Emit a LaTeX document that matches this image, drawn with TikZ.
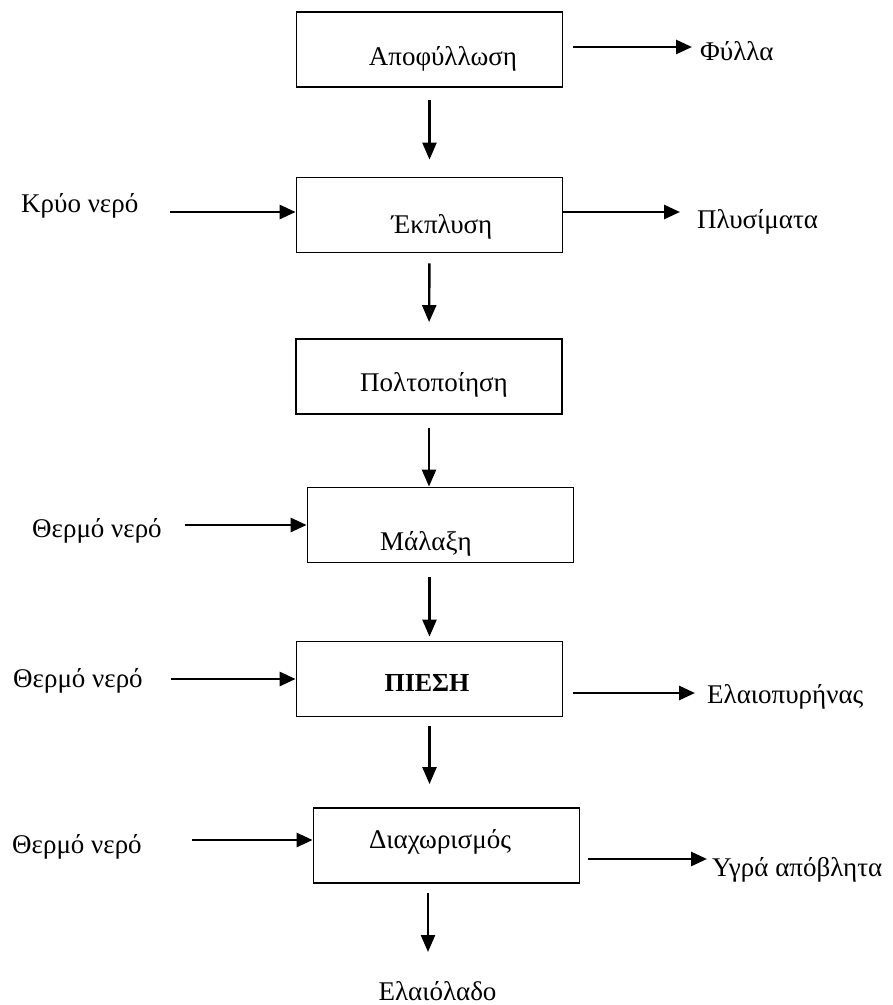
\documentclass[tikz,border=0pt]{standalone}
\usepackage{fontspec}
\setmainfont{Liberation Serif}
\usetikzlibrary{arrows.meta}
\begin{document}
\begin{tikzpicture}[x=1pt,y=-1pt,
  box/.style={draw, line width=1.8pt, minimum width=266pt, minimum height=75pt, inner sep=0pt},
  txt/.style={font=\fontsize{27}{32}\selectfont, inner sep=0pt, anchor=base},
  ltxt/.style={txt, anchor=base west},
  harr/.style={line width=2.8pt, -{Triangle[length=16pt,width=14pt]}},
  varr/.style={line width=2.4pt, -{Triangle[length=17pt,width=14pt]}}]
\useasboundingbox (0,0) rectangle (893,1005);

% process boxes
\node[box] (b1) at (429.5,49.5) {};
\node[box] (b2) at (429.5,215) {};
\node[box] (b3) at (429,376.5) {};
\node[box] (b4) at (440.5,525) {};
\node[box] (b5) at (429.5,679) {};
\node[box] (b6) at (446.5,845.5) {};

% box texts
\node[txt] (t1) at (443,65) {Αποφύλλωση};
\node[txt] (t2) at (442,233) {Έκπλυση};
\node[txt] (t3) at (434,391) {Πολτοποίηση};
\node[txt] (t4) at (426,550) {Μάλαξη};
\node[txt,font=\fontsize{26}{30}\selectfont\bfseries] (t5) at (427,691) {ΠΙΕΣΗ};
\node[txt] (t6) at (440,848) {Διαχωρισμός};

% input labels
\node[ltxt] (in2) at (21,212) {Κρύο νερό};
\node[ltxt] (in4) at (32,537) {Θερμό νερό};
\node[ltxt] (in5) at (13,687) {Θερμό νερό};
\node[ltxt] (in6) at (12,853) {Θερμό νερό};

% output labels
\node[ltxt] (o1) at (700,60) {Φύλλα};
\node[ltxt] (o2) at (697,228) {Πλυσίματα};
\node[ltxt] (o5) at (707,703) {Ελαιοπυρήνας};
\node[ltxt] (o6) at (712,876) {Υγρά απόβλητα};
\node[txt] (o7) at (437.5,1000) {Ελαιόλαδο};

% arrow anchor coordinates
\coordinate (s2) at (170,212);
\coordinate (s4) at (185,525);
\coordinate (s5) at (171,679);
\coordinate (s6) at (192,840);
\coordinate (r1) at (692,47);
\coordinate (r2) at (680,212);
\coordinate (r5) at (695,693);
\coordinate (r6) at (707,859);
\coordinate (ob) at (428,952);

% main flow
\draw[varr, shorten <=12pt, shorten >=17pt] (b1.south) -- (b2.north);
\draw[varr, shorten <=10pt, shorten >=16pt] (b2.south) -- (b3.north);
\draw[varr, shorten <=13pt] (b3.south) -- (b3.south |- b4.north);
\draw[varr, shorten <=14pt, shorten >=4pt] (b5.north |- b4.south) -- (b5.north);
\draw[varr, shorten <=9pt, shorten >=23pt] (b5.south) -- (b5.south |- b6.north);
\draw[varr, shorten <=9pt] (ob |- b6.south) -- (ob);

% inputs
\draw[harr] (s2) -- (s2 -| b2.west);
\draw[harr] (s4) -- (s4 -| b4.west);
\draw[harr] (s5) -- (s5 -| b5.west);
\draw[harr] (s6) -- (s6 -| b6.west);

% outputs
\draw[harr, shorten <=10pt] (b1.east |- r1) -- (r1);
\draw[harr] (b2.east |- r2) -- (r2);
\draw[harr, shorten <=10pt] (b5.east |- r5) -- (r5);
\draw[harr, shorten <=8pt] (b6.east |- r6) -- (r6);
\end{tikzpicture}
\end{document}
